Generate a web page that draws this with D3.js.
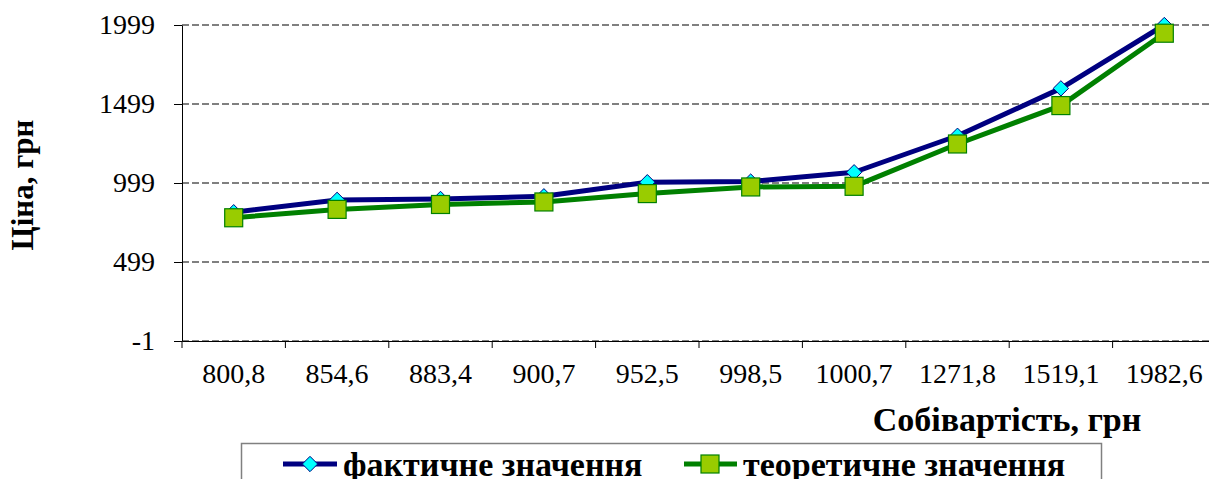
<!DOCTYPE html>
<html>
<head>
<meta charset="utf-8">
<script src="https://cdn.jsdelivr.net/npm/d3@7"></script>
<style>
	body { margin: 0; background: #fff; }
	svg { display: block; font-family: "Liberation Serif", "Times New Roman", serif; }
	.grid line { stroke: #808080; stroke-width: 2; stroke-dasharray: 7,3; }
	.axis path, .axis line { stroke: #000; stroke-width: 1; }
	.axis text { font-family: "Liberation Serif", "Times New Roman", serif; font-size: 28px; fill: #000; }
</style>
</head>
<body>
<script>
// categories on the x axis (Собівартість, грн)
let categories = ["800,8", "854,6", "883,4", "900,7", "952,5", "998,5", "1000,7", "1271,8", "1519,1", "1982,6"];
// series values
let actualValues = [814, 892, 898, 915, 1004, 1008, 1067, 1298, 1598, 1999];
let theoryValues = [779, 832, 863, 879, 932, 974, 978, 1246, 1489, 1947];
let yTicks = [-1, 499, 999, 1499, 1999];
let seriesNames = ["фактичне значення", "теоретичне значення"];

let margin = {top: 25, right: -7, bottom: 138, left: 182};
let W = 1209, H = 479;
let width = W - margin.left - margin.right;
let height = H - margin.top - margin.bottom;

let xScale = d3.scaleBand().domain(categories).range([0, width]);
let yScale = d3.scaleLinear().domain([-1, 1999]).range([height, 0]);

let svg = d3.select("body").append("svg")
	.attr("width", W)
	.attr("height", H);

let chart = svg.append("g")
	.attr("transform", "translate(" + margin.left + "," + margin.top + ")");

// dashed gridlines
chart.append("g")
	.attr("class", "grid")
	.selectAll("line")
	.data(yTicks)
	.enter().append("line")
		.attr("x1", 0)
		.attr("x2", width)
		.attr("y1", function(d) { return yScale(d); })
		.attr("y2", function(d) { return yScale(d); });

// y axis
chart.append("g")
	.attr("class", "axis")
	.call(d3.axisLeft(yScale)
		.tickValues(yTicks)
		.tickFormat(function(d) { return String(d); })
		.tickSize(8).tickPadding(19).tickSizeOuter(0));

// x axis: labels centred in the bands, ticks on band edges
let xAxis = chart.append("g")
	.attr("class", "axis")
	.attr("transform", "translate(0," + height + ")")
	.call(d3.axisBottom(xScale).tickSize(0).tickPadding(0).tickSizeOuter(0));
xAxis.selectAll("text").attr("y", 42).attr("dy", 0);
xAxis.selectAll(".edge")
	.data(d3.range(categories.length + 1))
	.enter().append("line")
		.attr("class", "edge")
		.attr("x1", function(i) { return i * xScale.step(); })
		.attr("x2", function(i) { return i * xScale.step(); })
		.attr("y1", 0)
		.attr("y2", 7);

// axis titles
svg.append("text")
	.attr("transform", "translate(33,185) rotate(-90)")
	.attr("text-anchor", "middle")
	.style("font-size", "31px")
	.style("font-weight", "bold")
	.text("Ціна, грн");

svg.append("text")
	.attr("x", 1007)
	.attr("y", 431)
	.attr("text-anchor", "middle")
	.style("font-size", "34px")
	.style("font-weight", "bold")
	.text("Собівартість, грн");

// lines and markers
let line = d3.line()
	.x(function(d, i) { return xScale(categories[i]) + xScale.bandwidth() / 2; })
	.y(function(d) { return yScale(d); });

let diamond = d3.symbol().type(d3.symbolDiamond2).size(150);

function drawSeries(values, color, marker) {
	chart.append("path")
		.datum(values)
		.attr("fill", "none")
		.attr("stroke", color)
		.attr("stroke-width", 5)
		.attr("stroke-linejoin", "round")
		.attr("d", line);

	if (marker == "diamond") {
		chart.selectAll(null)
			.data(values)
			.enter().append("path")
				.attr("d", diamond)
				.attr("transform", function(d, i) {
					return "translate(" + (xScale(categories[i]) + xScale.bandwidth() / 2) + "," + yScale(d) + ")";
				})
				.attr("fill", "#00ffff")
				.attr("stroke", "#000080")
				.attr("stroke-width", 1);
	} else {
		chart.selectAll(null)
			.data(values)
			.enter().append("rect")
				.attr("x", function(d, i) { return xScale(categories[i]) + xScale.bandwidth() / 2 - 9; })
				.attr("y", function(d) { return yScale(d) - 9; })
				.attr("width", 18)
				.attr("height", 18)
				.attr("fill", "#99cc00")
				.attr("stroke", "#008000")
				.attr("stroke-width", 1.2);
	}
}

drawSeries(actualValues, "#000080", "diamond");
drawSeries(theoryValues, "#008000", "square");

// legend
let legend = svg.append("g");
legend.append("rect")
	.attr("x", 241.5)
	.attr("y", 443.5)
	.attr("width", 860)
	.attr("height", 60)
	.attr("fill", "#fff")
	.attr("stroke", "#808080")
	.attr("stroke-width", 1.5);

legend.append("line")
	.attr("x1", 283).attr("x2", 337).attr("y1", 464).attr("y2", 464)
	.attr("stroke", "#000080").attr("stroke-width", 5);
legend.append("path")
	.attr("d", diamond)
	.attr("transform", "translate(310,464)")
	.attr("fill", "#00ffff")
	.attr("stroke", "#000080");
legend.append("text")
	.attr("x", 343).attr("y", 476)
	.style("font-size", "34px").style("font-weight", "bold")
	.text(seriesNames[0]);

legend.append("line")
	.attr("x1", 684).attr("x2", 737).attr("y1", 464).attr("y2", 464)
	.attr("stroke", "#008000").attr("stroke-width", 5);
legend.append("rect")
	.attr("x", 701).attr("y", 455).attr("width", 18).attr("height", 18)
	.attr("fill", "#99cc00").attr("stroke", "#008000").attr("stroke-width", 1.2);
legend.append("text")
	.attr("x", 743).attr("y", 476)
	.style("font-size", "34px").style("font-weight", "bold")
	.text(seriesNames[1]);
</script>
</body>
</html>
